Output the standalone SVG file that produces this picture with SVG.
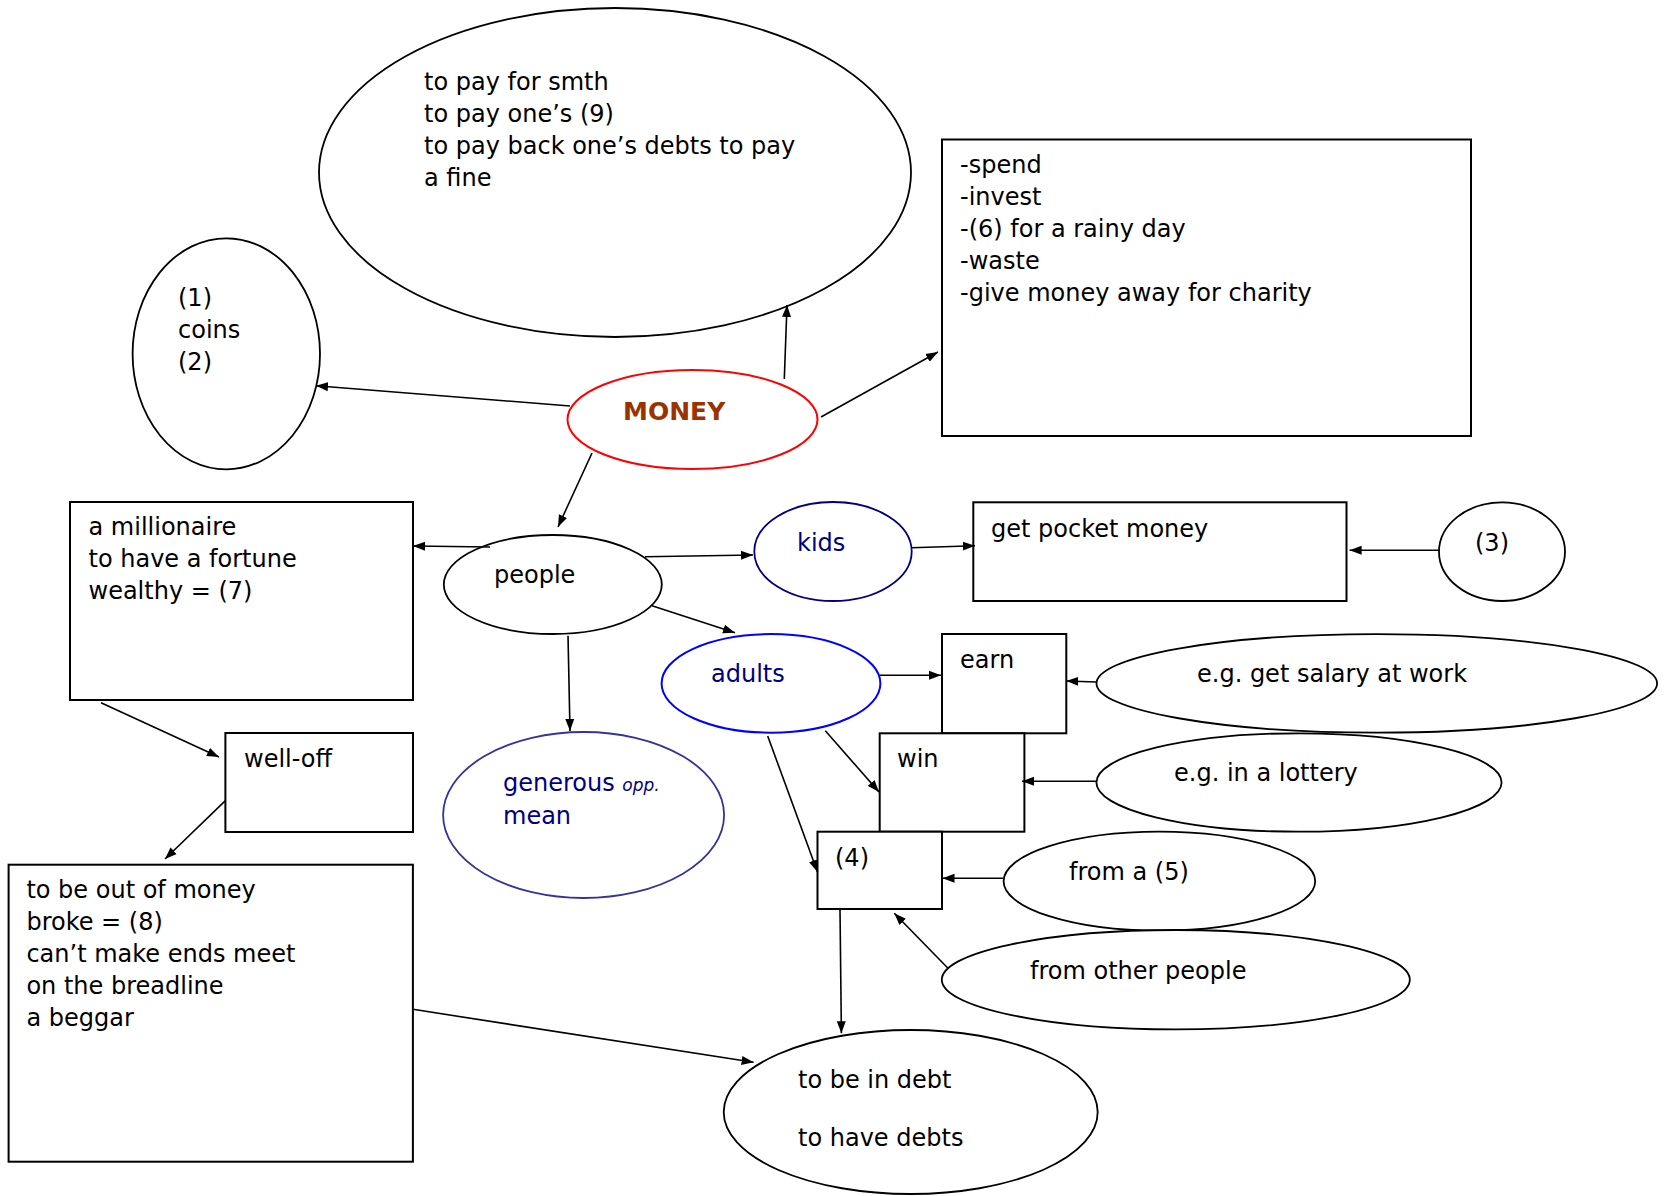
<svg xmlns="http://www.w3.org/2000/svg" width="1667" height="1196" viewBox="0 0 1667 1196">
<defs>
<style>
.t{font-family:"DejaVu Sans","Liberation Sans",sans-serif;font-size:24px;fill:#000}
.nv{fill:#000080}
.s{fill:#fff;stroke:#000;stroke-width:2}
.e{fill:#fff;stroke:#000;stroke-width:1.8}
.c{stroke:#000;stroke-width:1.6;fill:none;marker-end:url(#ah)}
</style>
<marker id="ah" markerUnits="userSpaceOnUse" markerWidth="14" markerHeight="10" refX="12" refY="5" orient="auto">
<path d="M0,0.5 L12,5 L0,9.5 z" fill="#000"/>
</marker>
</defs>
<rect width="1667" height="1196" fill="#fff"/>
<g id="pay">
<ellipse class="e" cx="615" cy="172.5" rx="296" ry="164.5"/>
<text class="t" x="424" y="90">to pay for smth</text>
<text class="t" x="424" y="122">to pay one’s (9)</text>
<text class="t" x="424" y="154">to pay back one’s debts to pay</text>
<text class="t" x="424" y="186">a fine</text>
</g>
<g id="actions">
<rect class="s" x="942" y="139.5" width="529" height="296.5"/>
<text class="t" x="960" y="173">-spend</text>
<text class="t" x="960" y="205">-invest</text>
<text class="t" x="960" y="237">-(6) for a rainy day</text>
<text class="t" x="960" y="269">-waste</text>
<text class="t" x="960" y="301">-give money away for charity</text>
</g>
<g id="coins">
<ellipse class="e" cx="226.3" cy="353.8" rx="93.7" ry="115.5"/>
<text class="t" x="178" y="306">(1)</text>
<text class="t" x="178" y="338">coins</text>
<text class="t" x="178" y="370">(2)</text>
</g>
<g id="money">
<ellipse cx="692.5" cy="419.5" rx="125" ry="49.5" fill="#fff" stroke="#ff0000" stroke-width="2"/>
<text class="t" x="623" y="420" style="font-weight:bold;fill:#993300;font-size:25px">MONEY</text>
</g>
<g id="people">
<ellipse class="e" cx="552.8" cy="584.5" rx="109" ry="49.5"/>
<text class="t" x="494" y="583">people</text>
</g>
<g id="millionaire">
<rect class="s" x="70" y="502" width="343" height="198"/>
<text class="t" x="88.5" y="535">a millionaire</text>
<text class="t" x="88.5" y="567">to have a fortune</text>
<text class="t" x="88.5" y="599">wealthy = (7)</text>
</g>
<g id="kids">
<ellipse cx="833" cy="551.5" rx="78.7" ry="49.5" fill="#fff" stroke="#000080" stroke-width="1.8"/>
<text class="t nv" x="797" y="551">kids</text>
</g>
<g id="pocket">
<rect class="s" x="973.3" y="502.3" width="373.2" height="98.7"/>
<text class="t" x="991" y="537">get pocket money</text>
</g>
<g id="n3">
<ellipse class="e" cx="1502" cy="551.7" rx="63" ry="49.3"/>
<text class="t" x="1475" y="551">(3)</text>
</g>
<g id="adults">
<ellipse cx="771" cy="683.4" rx="109.4" ry="49.3" fill="#fff" stroke="#0000ff" stroke-width="2"/>
<text class="t nv" x="711" y="682">adults</text>
</g>
<g id="earn">
<rect class="s" x="942" y="634" width="124.3" height="99.3"/>
<text class="t" x="960" y="668">earn</text>
</g>
<g id="salary">
<ellipse class="e" cx="1376.8" cy="683.4" rx="280.3" ry="49.3"/>
<text class="t" x="1197" y="682">e.g. get salary at work</text>
</g>
<g id="welloff">
<rect class="s" x="225.4" y="733" width="187.6" height="99"/>
<text class="t" x="244" y="767">well-off</text>
</g>
<g id="generous">
<ellipse cx="583.6" cy="815" rx="140.5" ry="83" fill="#fff" stroke="#333399" stroke-width="1.8"/>
<text class="t nv" x="503" y="791">generous <tspan style="font-size:17px;font-style:italic">opp.</tspan></text>
<text class="t nv" x="503" y="824">mean</text>
</g>
<g id="win">
<rect class="s" x="879.7" y="733.3" width="144.7" height="98.4"/>
<text class="t" x="897" y="767">win</text>
</g>
<g id="lottery">
<ellipse class="e" cx="1299" cy="782.5" rx="202.6" ry="49.2"/>
<text class="t" x="1174" y="781">e.g. in a lottery</text>
</g>
<g id="n4">
<rect class="s" x="817.5" y="831.7" width="124.5" height="77.3"/>
<text class="t" x="835" y="866">(4)</text>
</g>
<g id="n5">
<ellipse class="e" cx="1159.4" cy="881.2" rx="155.8" ry="49.5"/>
<text class="t" x="1069" y="880">from a (5)</text>
</g>
<g id="other">
<ellipse class="e" cx="1175.8" cy="979.7" rx="234" ry="49.7"/>
<text class="t" x="1030" y="979">from other people</text>
</g>
<g id="outofmoney">
<rect class="s" x="8.6" y="864.7" width="404.3" height="297"/>
<text class="t" x="26.4" y="898">to be out of money</text>
<text class="t" x="26.4" y="930">broke = (8)</text>
<text class="t" x="26.4" y="962">can’t make ends meet</text>
<text class="t" x="26.4" y="994">on the breadline</text>
<text class="t" x="26.4" y="1026">a beggar</text>
</g>
<g id="debt">
<ellipse class="e" cx="910.7" cy="1112" rx="187" ry="82"/>
<text class="t" x="798" y="1088">to be in debt</text>
<text class="t" x="798" y="1146">to have debts</text>
</g>
<g id="connectors">
<line class="c" x1="784.3" y1="379" x2="787" y2="305"/>
<line class="c" x1="821" y1="417" x2="938" y2="352"/>
<line class="c" x1="570" y1="406" x2="316" y2="385.7"/>
<line class="c" x1="592" y1="453" x2="558" y2="527"/>
<line class="c" x1="490" y1="547" x2="413" y2="546"/>
<line class="c" x1="645" y1="556.7" x2="753" y2="555"/>
<line class="c" x1="911.6" y1="547.7" x2="975" y2="545.7"/>
<line class="c" x1="1439" y1="550.3" x2="1349.6" y2="550.3"/>
<line class="c" x1="652" y1="605.7" x2="735" y2="632.7"/>
<line class="c" x1="568" y1="635.7" x2="570" y2="731"/>
<line class="c" x1="101" y1="702.7" x2="219" y2="757"/>
<line class="c" x1="225.4" y1="800.7" x2="165" y2="859"/>
<line class="c" x1="880" y1="675.3" x2="941" y2="675.3"/>
<line class="c" x1="1096.5" y1="682" x2="1066.3" y2="681"/>
<line class="c" x1="825.3" y1="730.7" x2="879" y2="792"/>
<line class="c" x1="1096.5" y1="781.3" x2="1022" y2="781.3"/>
<line class="c" x1="767.7" y1="736" x2="817.5" y2="872"/>
<line class="c" x1="1003.5" y1="878.3" x2="942.5" y2="878.3"/>
<line class="c" x1="948" y1="968.3" x2="894.3" y2="913.3"/>
<line class="c" x1="840" y1="910" x2="841.4" y2="1033.3"/>
<line class="c" x1="412.9" y1="1009.3" x2="753.6" y2="1062.3"/>
</g>
</svg>
